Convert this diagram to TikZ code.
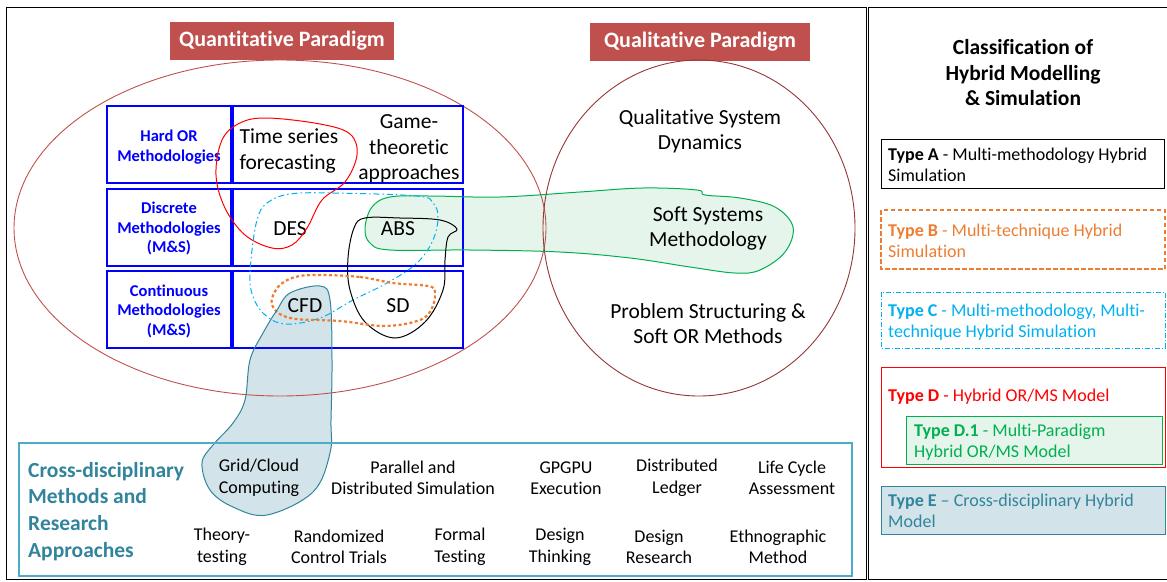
\documentclass[tikz,border=0pt]{standalone}
\usepackage{fontspec}
\setmainfont{Carlito}[Ligatures=NoCommon]
\definecolor{parared}{HTML}{C0504D}
\definecolor{qualbrown}{HTML}{943634}
\definecolor{tblue}{HTML}{0000FF}
\definecolor{tred}{HTML}{FF0000}
\definecolor{tcyan}{HTML}{00B0F0}
\definecolor{tgreen}{HTML}{00B050}
\definecolor{tgreenfill}{HTML}{E6F5EB}
\definecolor{torange}{HTML}{ED7D31}
\definecolor{tteal}{HTML}{31849B}
\definecolor{ttealfill}{HTML}{D2E4EA}
\definecolor{tteallight}{HTML}{4BACC6}
\tikzset{
  paralabel/.style={fill=parared,text=white,font=\fontsize{22}{26}\selectfont\bfseries,inner sep=0pt,minimum height=38pt},
  cellbox/.style={draw=tblue,line width=1.1pt},
  celltxt/.style={text=tblue,align=center,font=\fontsize{16.5}{19.5}\selectfont\bfseries},
  bigtxt/.style={align=center,font=\fontsize{21.5}{25.5}\selectfont},
  qualtxt/.style={align=center,font=\fontsize{21.5}{25}\selectfont},
  itemtxt/.style={align=center,font=\fontsize{18}{21.5}\selectfont},
  legtxt/.style={align=left,anchor=north west,inner sep=0pt,font=\fontsize{18}{20.5}\selectfont},
  legbox/.style={line width=0.8pt},
}
\begin{document}
\begin{tikzpicture}[x=1pt,y=-1pt]
\useasboundingbox (0,0) rectangle (1167,581);
% frames
\draw[line width=1pt] (6,7) rectangle (866,579);
\draw[line width=1pt] (868,579) -- (868,7) -- (1167,7);
\draw[line width=1pt] (868,579) -- (1167,579);

% blob fills
\fill[tgreenfill] plot[smooth cycle,tension=0.6] coordinates {(365,228) (372,207) (390,197) (430,196) (500,197) (580,192) (643,188) (697,190) (705,195) (740,198) (775,207) (793,227) (785,252) (760,270) (735,273) (690,267) (630,258) (560,252) (470,250) (390,250) (370,243)};
\fill[ttealfill] plot[smooth cycle,tension=0.6] coordinates {(320,286) (330,300) (332,360) (331,420) (330,453) (313,492) (267,515) (233,507) (210,490) (202,463) (213,445) (233,423) (245,400) (250,360) (263,333) (277,310) (290,293)};

% paradigm labels
\node[paralabel,minimum width=224pt] (quant) at (282,41) {Quantitative Paradigm};
\node[paralabel,minimum width=220pt] (qual) at (700,41.5) {Qualitative Paradigm};

% ellipses
\draw[parared,line width=0.9pt] (280,228) ellipse [x radius=266pt, y radius=168pt];
\coordinate (quantell) at (280,228);
\draw[qualbrown,line width=0.9pt] (699,228) ellipse [x radius=156pt, y radius=168pt];
\coordinate (qualell) at (699,228);

% table
\draw[cellbox] (107,106) rectangle (231,183);
\draw[cellbox] (233,106) rectangle (463,183);
\draw[cellbox] (107,189) rectangle (231,266);
\draw[cellbox] (233,189) rectangle (463,266);
\draw[cellbox] (107,271) rectangle (231,348);
\draw[cellbox] (233,271) rectangle (463,348);
\node[celltxt] (hard) at (169,147) {Hard OR\\Methodologies};
\node[celltxt] (disc) at (169,228.5) {Discrete\\Methodologies\\(M\&S)};
\node[celltxt] (cont) at (169,311) {Continuous\\Methodologies\\(M\&S)};

\node[bigtxt,align=left,anchor=west] (ts) at (236,151) {Time series\\forecasting};
\node[bigtxt] (game) at (409,149) {Game-\\theoretic\\approaches};
\node[bigtxt] (des) at (290,229) {DES};
\node[bigtxt] (abs) at (398,229) {ABS};
\node[bigtxt] (cfd) at (305,306) {CFD};
\node[bigtxt] (sd) at (398,306) {SD};

% qualitative texts
\node[qualtxt] (qsd) at (700,131) {Qualitative System\\Dynamics};
\node[qualtxt] (ssm) at (708,228) {Soft Systems\\Methodology};
\node[qualtxt] (ps) at (708,324) {Problem Structuring \&\\Soft OR Methods};

% blob outlines
\draw[tgreen,line width=1pt] plot[smooth cycle,tension=0.6] coordinates {(365,228) (372,207) (390,197) (430,196) (500,197) (580,192) (643,188) (697,190) (705,195) (740,198) (775,207) (793,227) (785,252) (760,270) (735,273) (690,267) (630,258) (560,252) (470,250) (390,250) (370,243)};
\draw[tred,line width=1pt] plot[smooth cycle,tension=0.6] coordinates {(267,118) (320,124) (350,134) (357,155) (345,182) (322,200) (307,228) (292,245) (272,248) (245,235) (225,208) (216,175) (222,140) (240,123)};
\draw[tcyan,line width=1pt,dash pattern=on 6pt off 3pt on 1.5pt off 3pt] plot[smooth cycle,tension=0.6] coordinates {(290,194) (333,193) (417,196) (433,203) (438,217) (433,240) (417,263) (387,283) (353,300) (320,318) (285,324) (263,313) (251,290) (251,260) (257,220) (267,203)};
\draw[black,line width=1pt] plot[smooth cycle,tension=0.6] coordinates {(365,218) (400,218) (440,220) (457,229) (448,237) (445,260) (443,290) (425,322) (395,338) (365,322) (350,290) (348,258) (354,228)};
\draw[torange,line width=2.2pt,dash pattern=on 3pt off 2.5pt] plot[smooth cycle,tension=0.6] coordinates {(320,275) (360,277) (393,283) (428,286) (435,292) (432,308) (420,320) (385,326) (340,321) (290,318) (272,305) (278,287) (295,277)};
\draw[tteal,line width=1pt] plot[smooth cycle,tension=0.6] coordinates {(320,286) (330,300) (332,360) (331,420) (330,453) (313,492) (267,515) (233,507) (210,490) (202,463) (213,445) (233,423) (245,400) (250,360) (263,333) (277,310) (290,293)};

% bottom box
\draw[tteallight,line width=1.2pt] (19,443) rectangle (852,576);
\node[anchor=north west,inner sep=0pt,align=left,text=tteal,font=\fontsize{21.5}{26.6}\selectfont\bfseries] (cross) at (28,462) {Cross-disciplinary\\Methods and\\Research\\Approaches};
\node[itemtxt] (grid) at (259,478) {Grid/Cloud\\Computing};
\node[itemtxt] (pds) at (413,478) {Parallel and\\Distributed Simulation};
\node[itemtxt] (gpgpu) at (566,478) {GPGPU\\Execution};
\node[itemtxt] (dl) at (677,478) {Distributed\\Ledger};
\node[itemtxt] (lca) at (792,478) {Life Cycle\\Assessment};
\node[itemtxt] (tt) at (222,547) {Theory-\\testing};
\node[itemtxt] (rct) at (339,547) {Randomized\\Control Trials};
\node[itemtxt] (ft) at (460,547) {Formal\\Testing};
\node[itemtxt] (dt) at (560,547) {Design\\Thinking};
\node[itemtxt] (dr) at (659,547) {Design\\Research};
\node[itemtxt] (em) at (778,547) {Ethnographic\\Method};

% right panel
\node[align=center,font=\fontsize{21.5}{25.5}\selectfont\bfseries] (title) at (1023,73) {Classification of\\Hybrid Modelling\\\& Simulation};
\draw[legbox,black] (881,139) rectangle (1164,188);
\node[legtxt] (ta) at (888,148) {\textbf{Type A} - Multi-methodology Hybrid\\Simulation};
\draw[torange,line width=2.2pt,dash pattern=on 4.5pt off 2.5pt] (881,210) rectangle (1165,269);
\node[legtxt,text=torange] (tb) at (888,224) {\textbf{Type B} - Multi-technique Hybrid\\Simulation};
\draw[legbox,tcyan,dash pattern=on 5pt off 2pt on 1pt off 2pt] (881,292) rectangle (1165,348);
\node[legtxt,text=tcyan] (tc) at (888,304) {\textbf{Type C} - Multi-methodology, Multi-\\technique Hybrid Simulation};
\draw[legbox,tred] (881,367) rectangle (1165,467);
\node[legtxt,text=tred] (td) at (888,389) {\textbf{Type D} - Hybrid OR/MS Model};
\draw[legbox,tgreen,fill=tgreenfill] (906,416) rectangle (1162,464);
\node[legtxt,text=tgreen] (td1) at (914,424) {\textbf{Type D.1} - Multi-Paradigm\\Hybrid OR/MS Model};
\draw[legbox,tteal,fill=ttealfill] (881,486) rectangle (1165,534);
\node[legtxt,text=tteal] (te) at (888,494) {\textbf{Type E} -- Cross-disciplinary Hybrid\\Model};
\end{tikzpicture}
\end{document}
